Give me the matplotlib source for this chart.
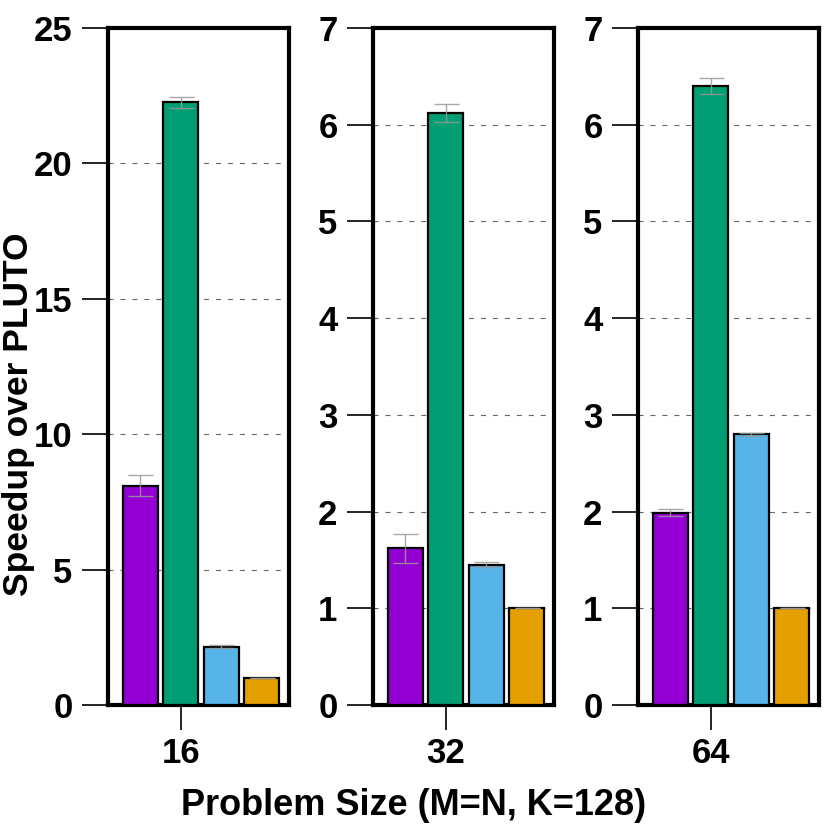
import numpy as np
import matplotlib
matplotlib.use("Agg")
import matplotlib.pyplot as plt

plt.rcParams["font.family"] = ["Liberation Sans", "DejaVu Sans"]
plt.rcParams["font.weight"] = "bold"
plt.rcParams["lines.scale_dashes"] = False

problem_sizes = ["16", "32", "64"]
y_max = [25, 7, 7]
y_step = [5, 1, 1]

speedup_purple = [8.10, 1.62, 1.99]
err_purple = [0.39, 0.15, 0.035]
speedup_green = [22.25, 6.12, 6.40]
err_green = [0.22, 0.09, 0.085]
speedup_blue = [2.16, 1.45, 2.80]
err_blue = [0.05, 0.025, 0.015]
speedup_orange = [1.0, 1.0, 1.0]
err_orange = [0.0, 0.0, 0.0]

colors = ["#9400D3", "#009E73", "#56B4E9", "#E69F00"]

fig = plt.figure(figsize=(8.3, 8.3), dpi=100)

lefts = [108 / 830, 373 / 830, 638 / 830]
for i, size in enumerate(problem_sizes):
    ax = fig.add_axes([lefts[i], 1 - 705 / 830, 181 / 830, 677 / 830])
    vals = [speedup_purple[i], speedup_green[i], speedup_blue[i], speedup_orange[i]]
    errs = [err_purple[i], err_green[i], err_blue[i], err_orange[i]]
    x = np.arange(4)
    ax.bar(x, vals, width=0.87, color=colors, edgecolor="black", linewidth=1.6, zorder=3)
    ax.errorbar(x, vals, yerr=errs, fmt="none", ecolor="#999999", elinewidth=1,
                capsize=9, capthick=1, alpha=0.85, zorder=4)

    ax.set_xlim(-0.80, 3.68)
    ax.set_ylim(0, y_max[i])
    ax.set_yticks(np.arange(0, y_max[i] + 0.1, y_step[i]))
    ax.set_xticks([1])
    ax.set_xticklabels([size])
    ax.yaxis.grid(True, color="#666666", linewidth=0.8, linestyle=(0, (3.6, 5)), zorder=0)
    ax.set_axisbelow(True)

    for sp in ax.spines.values():
        sp.set_linewidth(3)
    ax.tick_params(axis="y", direction="out", length=18.5, width=1.2, pad=7, labelsize=25)
    ax.tick_params(axis="x", direction="out", length=18, width=1.2, pad=5, labelsize=25)
    for lab in ax.get_xticklabels() + ax.get_yticklabels():
        lab.set_fontweight("bold")

fig.text(19 / 830, 1 - 414 / 830, "Speedup over PLUTO", rotation=90, ha="center",
         va="center", fontsize=25.5, fontweight="bold")
fig.text(414 / 830, 1 - 815 / 830, "Problem Size (M=N, K=128)", ha="center",
         va="baseline", fontsize=26, fontweight="bold")

plt.savefig("out.png", dpi=100)
